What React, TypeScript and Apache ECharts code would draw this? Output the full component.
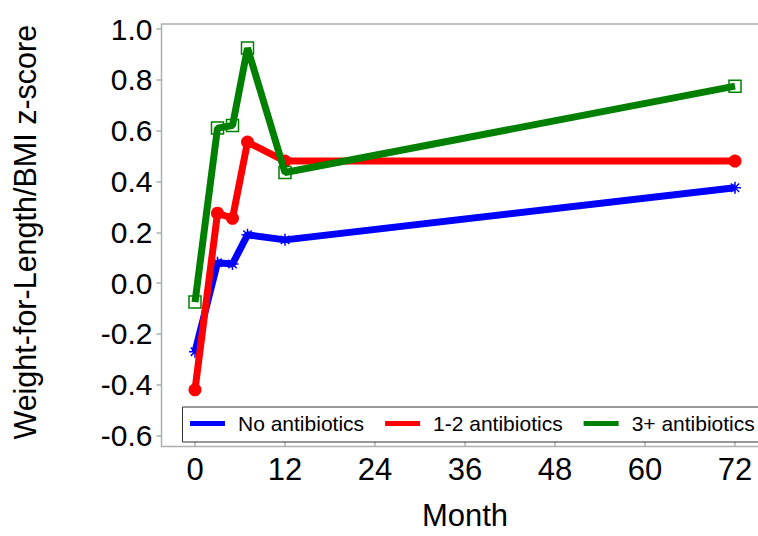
import React, { useEffect, useRef } from "react";
import * as echarts from "echarts";

const months = [0, 3, 5, 7, 12, 72];
const seriesNames = ["No antibiotics", "1-2 antibiotics", "3+ antibiotics"];
const noAntibiotics = [-0.27, 0.08, 0.075, 0.19, 0.17, 0.375];
const oneTwoAntibiotics = [-0.42, 0.275, 0.255, 0.555, 0.48, 0.48];
const threePlusAntibiotics = [-0.075, 0.61, 0.62, 0.925, 0.435, 0.775];
const xTicks = [0, 12, 24, 36, 48, 60, 72];
const yTicks = [-0.6, -0.4, -0.2, 0.0, 0.2, 0.4, 0.6, 0.8, 1.0];

const FONT = '"Liberation Sans", Arial, sans-serif';
const GRAY = "#a9afb3";

export default function App() {
  const ref = useRef<HTMLDivElement>(null);
  useEffect(() => {
    if (!ref.current) return;
    const chart = echarts.init(ref.current, undefined, { renderer: "svg" });
    const pairs = (vals: number[]) => months.map((m, i) => [m, vals[i]]);
    const colors = ["#0000ff", "#ff0000", "#008000"];
    const allData = [noAntibiotics, oneTwoAntibiotics, threePlusAntibiotics];
    const symbols = [
      "path://M0,-10L0,10M-10,0L10,0M-7,-7L7,7M-7,7L7,-7",
      "circle",
      "rect",
    ];
    const series = seriesNames.map((name, i) => ({
      name,
      type: "line",
      data: pairs(allData[i]),
      symbol: symbols[i],
      symbolSize: i === 1 ? 13 : 12,
      lineStyle: { color: colors[i], width: 7 },
      itemStyle:
        i === 1
          ? { color: colors[i], borderWidth: 0 }
          : { color: "rgba(0,0,0,0)", borderColor: colors[i], borderWidth: 1.5 },
      z: 2 + i,
      emphasis: { disabled: true },
    }));
    chart.setOption({
      animation: false,
      grid: { left: 195, right: 23, top: 29, bottom: 93 },
      xAxis: {
        type: "value",
        min: 0,
        max: 72,
        interval: 12,
        offset: 3.5,
        name: "Month",
        nameLocation: "middle",
        nameGap: 61,
        nameTextStyle: { fontFamily: FONT, fontSize: 31, color: "#000" },
        axisLine: { show: false, onZero: false },
        axisTick: { show: true, length: 7, lineStyle: { color: GRAY, width: 1.5 } },
        axisLabel: {
          fontFamily: FONT,
          fontSize: 31,
          color: "#000",
          margin: 15,
          customValues: xTicks,
        },
        splitLine: { show: false },
      },
      yAxis: {
        type: "value",
        min: -0.6,
        max: 1.0,
        interval: 0.2,
        offset: 33.5,
        name: "Weight-for-Length/BMI z-score",
        nameLocation: "middle",
        nameGap: 121,
        nameRotate: 90,
        nameTextStyle: { fontFamily: FONT, fontSize: 30.5, color: "#000" },
        axisLine: { show: false, onZero: false },
        axisTick: { show: true, length: 5, lineStyle: { color: GRAY, width: 1.5 } },
        axisLabel: {
          fontFamily: FONT,
          fontSize: 30,
          color: "#000",
          margin: 9,
          formatter: (v: number) => {
            const t = yTicks.find((y) => Math.abs(y - v) < 1e-6);
            return (t ?? v).toFixed(1);
          },
        },
        splitLine: { show: false },
      },
      legend: {
        left: 190,
        top: 413,
        padding: 0,
        itemGap: 21,
        itemWidth: 35,
        itemHeight: 5,
        icon: "rect",
        textStyle: {
          fontFamily: FONT,
          fontSize: 21,
          color: "#000",
          padding: [0, 0, 0, 8],
        },
        data: seriesNames.map((name, i) => ({
          name,
          icon: "rect",
          itemStyle: { color: colors[i], borderWidth: 0 },
        })),
        selectedMode: false,
      },
      graphic: [
        {
          type: "rect",
          shape: { x: 161.5, y: 24, width: 700, height: 422.5 },
          style: { fill: "none", stroke: GRAY, lineWidth: 1.5 },
          silent: true,
          z: 1,
        },
        {
          type: "rect",
          shape: { x: 182.5, y: 407, width: 700, height: 35 },
          style: { fill: "#fff", stroke: "#333", lineWidth: 1 },
          silent: true,
          z: 1,
        },
      ],
      series,
    });
    return () => chart.dispose();
  }, []);
  return <div ref={ref} style={{ width: 758, height: 536, position: "absolute", left: 0, top: 0 }} />;
}
